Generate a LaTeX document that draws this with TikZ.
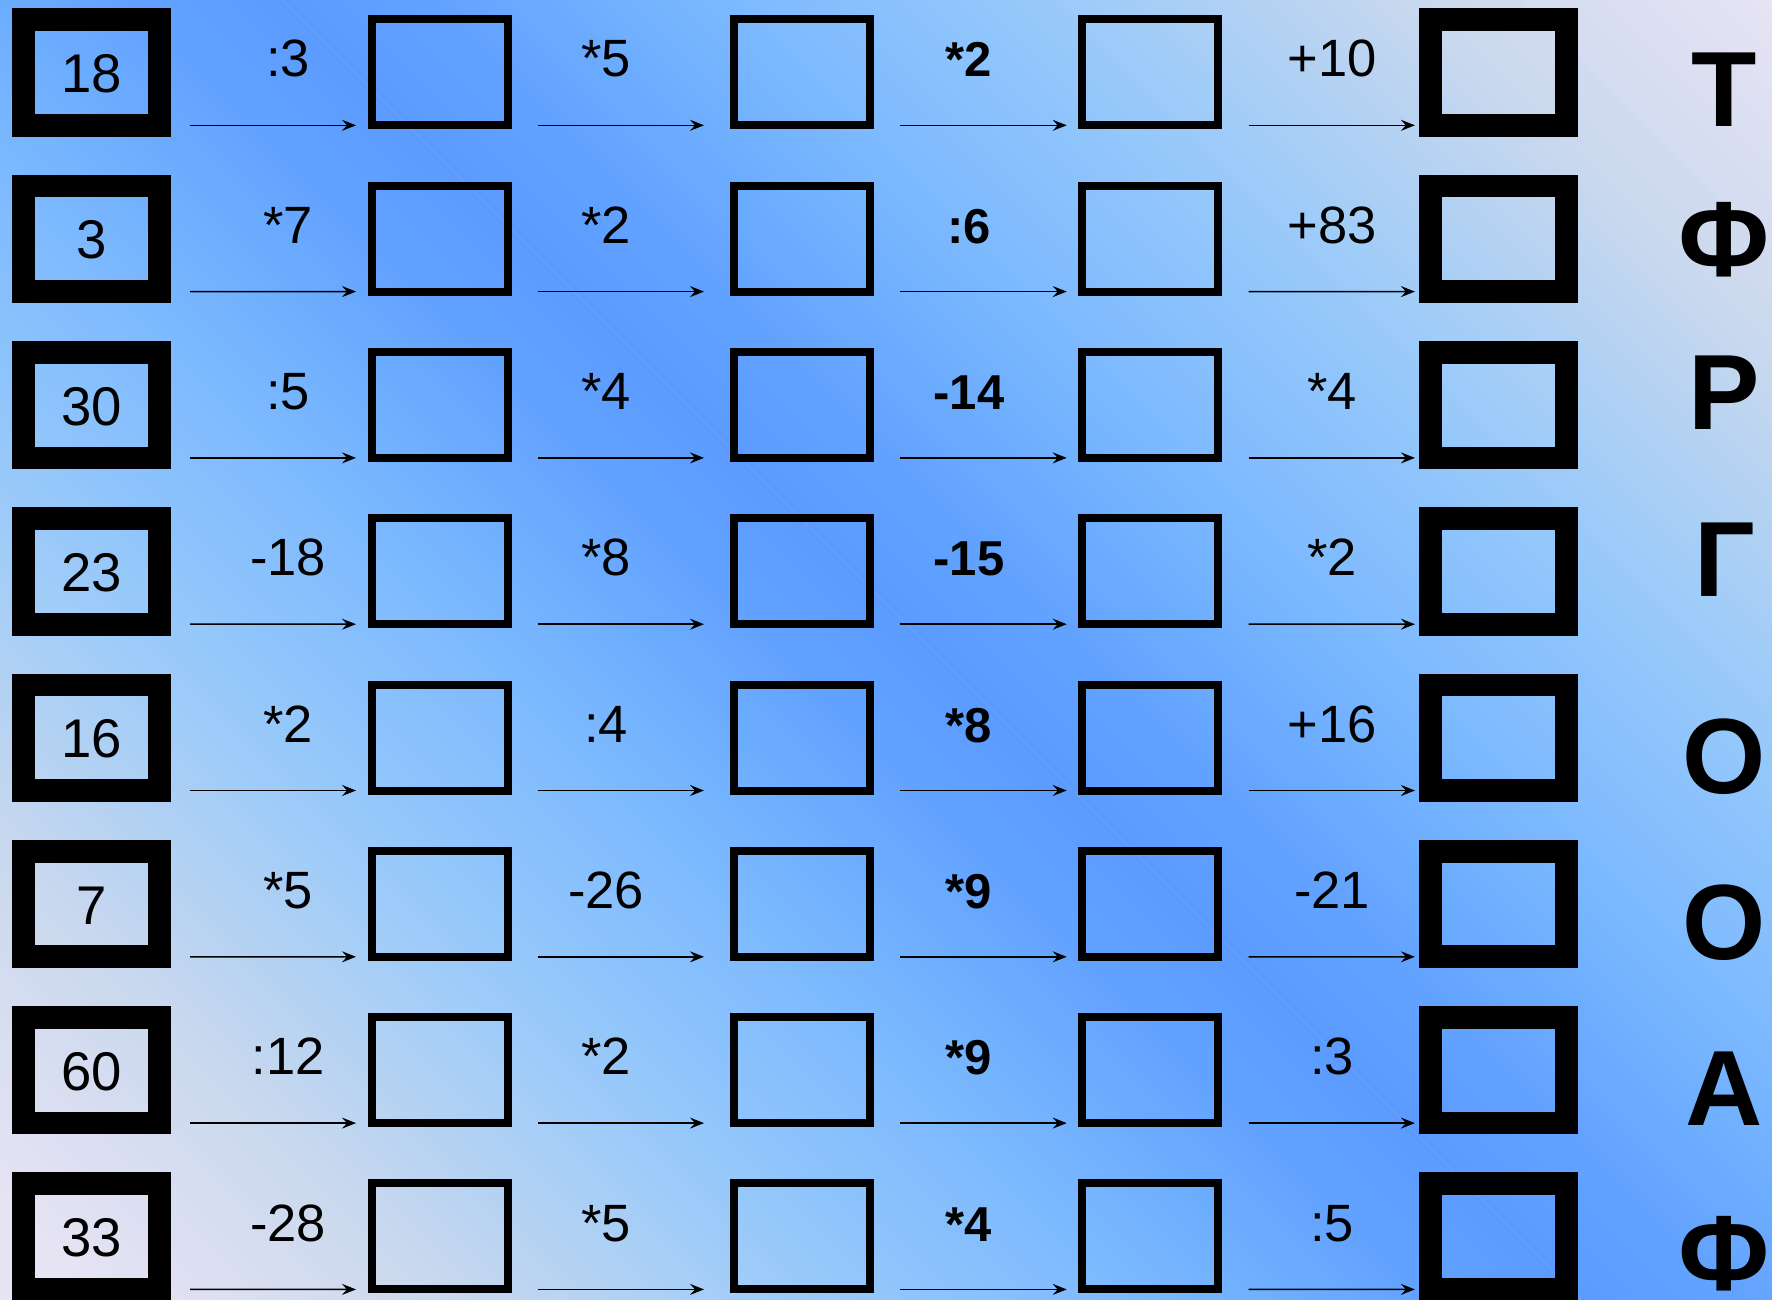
\documentclass[tikz,border=0pt]{standalone}
\usepackage{fontspec}
\setmainfont{Liberation Sans}
\usetikzlibrary{arrows.meta,calc}
\definecolor{g0}{HTML}{5B9BFF}
\definecolor{g1}{HTML}{62A2FF}
\definecolor{g2}{HTML}{70B0FE}
\definecolor{g3}{HTML}{80BBFE}
\definecolor{g4}{HTML}{8EC4FC}
\definecolor{g5}{HTML}{A0CCF8}
\definecolor{g6}{HTML}{B5D2F2}
\definecolor{g7}{HTML}{CBD9EE}
\definecolor{g8}{HTML}{E8E4F4}
\begin{document}
\begin{tikzpicture}[x=0.5pt,y=-0.5pt,
  thickbox/.style={draw=black,line width=11.35pt,minimum width=68pt,minimum height=52.8pt,inner sep=0pt,outer sep=0pt},
  thinbox/.style={draw=black,line width=4pt,minimum width=68pt,minimum height=53pt,inner sep=0pt,outer sep=0pt},
  numtxt/.style={font=\fontsize{27.25pt}{30pt}\selectfont,inner sep=0pt,anchor=base},
  optxt/.style={font=\fontsize{26.25pt}{30pt}\selectfont,inner sep=0pt,anchor=base},
  boldop/.style={font=\fontsize{24.5pt}{28pt}\selectfont\bfseries,inner sep=0pt,anchor=base},
  lettxt/.style={font=\fontsize{53.5pt}{60pt}\selectfont\bfseries,inner sep=0pt,anchor=base},
  arr/.style={line width=0.75pt,-{Stealth[length=7pt,width=5.5pt,inset=2.5pt]}}
]
\useasboundingbox (0,0) rectangle (1772,1300);
% background gradient
\fill[g8] (0,0) rectangle (1772,1300);
\begin{scope}
\clip (0,0) rectangle (1772,1300);
\foreach \a/\b/\ca/\cb in {0/150/g0/g1,150/320/g1/g2,320/480/g2/g3,480/650/g3/g4,650/820/g4/g5,820/980/g5/g6,980/1150/g6/g7,1150/1500/g7/g8}{
  \foreach \k in {0,...,19}{
    \pgfmathsetmacro\sA{\a+(\b-\a)*\k/20}
    \pgfmathsetmacro\sB{\a+(\b-\a)*(\k+1)/20+1.5}
    \pgfmathtruncatemacro\mix{100*(\k+0.5)/20}
    \fill[\cb!\mix!\ca] ({282+\sA},0) -- ({282+\sB},0) -- ({1582+\sB},1300) -- ({1582+\sA},1300) -- cycle;
    \fill[\cb!\mix!\ca] ({282-\sA},0) -- ({282-\sB},0) -- ({1582-\sB},1300) -- ({1582-\sA},1300) -- cycle;
  }
}
\end{scope}
% rows
\foreach \r/\n/\oa/\ob/\oc/\od/\L/\Ly [count=\i from 0] in {
  1/18/:3/*5/*2/+10/Т/126.7,
  2/3/*7/*2/:6/+83/Ф/277,
  3/30/:5/*4/-14/*4/Р/429,
  4/23/-18/*8/-15/*2/Г/596,
  5/16/*2/:4/*8/+16/О/793,
  6/7/*5/-26/*9/-21/О/959,
  7/60/:12/*2/*9/:3/А/1125,
  8/33/-28/*5/*4/:5/Ф/1290}{
  \pgfmathsetmacro\yo{166.3*\i}
  \node[thickbox] (b\r-0) at (91.7,{72.5+\yo}) {};
  \node[thinbox]  (b\r-1) at (439.7,{72.3+\yo}) {};
  \node[thinbox]  (b\r-2) at (802,{72.3+\yo}) {};
  \node[thinbox]  (b\r-3) at (1150.3,{72.3+\yo}) {};
  \node[thickbox] (b\r-4) at (1498.2,{72.5+\yo}) {};
  \node[numtxt] (n\r) at (91.7,{92.5+\yo}) {\n};
  \node[optxt]  (l\r-1) at (288,{77+\yo}) {\oa};
  \node[optxt]  (l\r-2) at (606,{77+\yo}) {\ob};
  \node[boldop] (l\r-3) at (969,{77+\yo}) {\oc};
  \node[optxt]  (l\r-4) at (1332,{77+\yo}) {\od};
  \node[lettxt] (t\r) at (1724.5,\Ly) {\L};
  \draw[arr] ([xshift=15.15pt]b\r-0.south east) -- ([xshift=-7.85pt]b\r-1.south west);
  \draw[arr] ([xshift=15.15pt]b\r-1.south east) -- ([xshift=-15pt]b\r-2.south west);
  \draw[arr] ([xshift=15pt]b\r-2.south east) -- ([xshift=-7.8pt]b\r-3.south west);
  \draw[arr] ([xshift=15.2pt]b\r-3.south east) -- ([xshift=-7.65pt]b\r-4.south west);
}
\end{tikzpicture}
\end{document}
